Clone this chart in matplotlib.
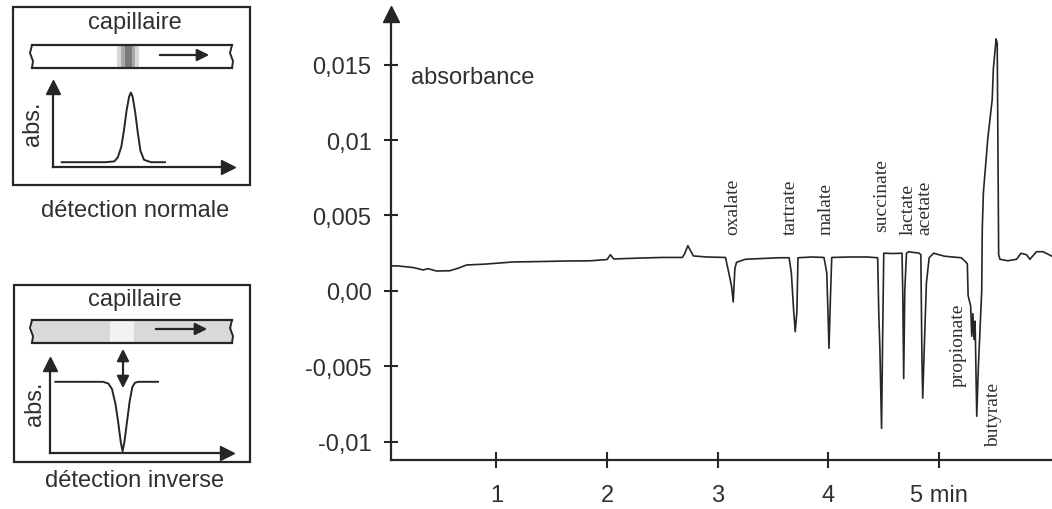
import matplotlib
matplotlib.use('Agg')
import matplotlib.pyplot as plt
from matplotlib.patches import Rectangle

# electropherogram trace (time in min, absorbance)
time_min = [0.05, 0.11, 0.25, 0.34, 0.38, 0.46, 0.58, 0.66, 0.73, 0.90,
            1.15, 1.40, 1.60, 1.85, 2.00, 2.03, 2.06, 2.30, 2.50, 2.68,
            2.70, 2.73, 2.78, 2.90, 3.07, 3.10, 3.125, 3.14, 3.155, 3.17,
            3.25, 3.40, 3.55, 3.645, 3.665, 3.685, 3.70, 3.715, 3.725, 3.85,
            3.96, 3.985, 3.995, 4.005, 4.018, 4.03, 4.20, 4.35, 4.445, 4.455,
            4.465, 4.48, 4.49, 4.50, 4.58, 4.665, 4.672, 4.68, 4.69, 4.705,
            4.725, 4.82, 4.835, 4.845, 4.852, 4.865, 4.885, 4.91, 4.95, 5.05,
            5.20, 5.23, 5.255, 5.262, 5.285, 5.295, 5.305, 5.315, 5.325, 5.33,
            5.34, 5.355, 5.385, 5.39, 5.40, 5.44, 5.48, 5.49, 5.515, 5.525,
            5.533, 5.538, 5.55, 5.62, 5.70, 5.74, 5.79, 5.82, 5.88, 5.94,
            6.02]
absorb = [0.00166, 0.00166, 0.00155, 0.00139, 0.00148, 0.00132, 0.00134, 0.00152, 0.00172, 0.00178,
          0.00192, 0.00195, 0.00198, 0.00200, 0.00208, 0.00240, 0.00212, 0.00218, 0.00222, 0.00222,
          0.00245, 0.00300, 0.00232, 0.00225, 0.00222, 0.00120, 0.00030, -0.00073, 0.00150, 0.00190,
          0.00210, 0.00215, 0.00220, 0.00220, 0.00120, -0.00120, -0.00270, -0.00140, 0.00220, 0.00225,
          0.00222, 0.00120, -0.00120, -0.00380, -0.00050, 0.00222, 0.00225, 0.00225, 0.00220, -0.00150,
          -0.00380, -0.00910, -0.00300, 0.00250, 0.00248, 0.00250, -0.00030, -0.00580, 0.00000, 0.00250,
          0.00260, 0.00250, 0.00240, -0.00450, -0.00710, -0.00400, 0.00050, 0.00220, 0.00250, 0.00230,
          0.00220, 0.00200, 0.00180, -0.00030, -0.00100, -0.00300, -0.00150, -0.00320, -0.00200, -0.00400,
          -0.00830, -0.00500, 0.00000, 0.00410, 0.00650, 0.01010, 0.01270, 0.01470, 0.01670, 0.01640,
          0.00800, 0.00240, 0.00210, 0.00200, 0.00210, 0.00250, 0.00240, 0.00210, 0.00260, 0.00260,
          0.00230]

peak_names = ['oxalate', 'tartrate', 'malate', 'succinate', 'lactate', 'acetate',
              'propionate', 'butyrate']
label_t = [3.14, 3.66, 3.98, 4.48, 4.72, 4.87, 5.17, 5.49]
label_v = [0.0038, 0.0038, 0.0038, 0.0040, 0.0038, 0.0038, -0.0063, -0.0103]

x_ticks = [1, 2, 3, 4, 5]
x_labels = ['1', '2', '3', '4', '5 min']
y_ticks = [0.015, 0.01, 0.005, 0.0, -0.005, -0.01]
y_labels = ['0,015', '0,01', '0,005', '0,00', '-0,005', '-0,01']

# schematic profiles (fractions of the little axes)
sketch_x_norm = [0.05, 0.30, 0.35, 0.37, 0.39, 0.405, 0.42, 0.435, 0.445, 0.455,
                 0.47, 0.485, 0.50, 0.52, 0.56, 0.64]
sketch_y_norm = [0.06, 0.06, 0.07, 0.12, 0.25, 0.45, 0.70, 0.88, 0.93, 0.88,
                 0.68, 0.42, 0.20, 0.09, 0.06, 0.06]
sketch_x_inv = [0.03, 0.30, 0.33, 0.35, 0.37, 0.385, 0.40, 0.41, 0.42, 0.435,
                0.45, 0.465, 0.48, 0.50, 0.61]
sketch_y_inv = [0.80, 0.80, 0.78, 0.72, 0.55, 0.35, 0.12, 0.02, 0.12, 0.35,
                0.58, 0.74, 0.79, 0.80, 0.80]

INK = '#262626'
TXT = '#303030'
W, H = 1052, 510
SANS = 'Liberation Sans'
SERIF = 'Liberation Serif'

fig = plt.figure(figsize=(W / 100, H / 100), dpi=100)


def px_axes(x0, y_top, x1, y_bot):
    # axes rectangle given in image pixels (y from top)
    return [x0 / W, (H - y_bot) / H, (x1 - x0) / W, (y_bot - y_top) / H]


# overlay in pixel coordinates for the left drawings and free text
ov = fig.add_axes([0, 0, 1, 1])
ov.set_xlim(0, W)
ov.set_ylim(H, 0)
ov.axis('off')
ov.patch.set_alpha(0)


def tube(y0, y1, fill=None, gap=None):
    x0, x1 = 32, 232
    if fill:
        ov.add_patch(Rectangle((x0, y0), x1 - x0, y1 - y0, facecolor=fill,
                               edgecolor='none', hatch='....', zorder=1))
        if gap:
            ov.add_patch(Rectangle((gap[0], y0), gap[1] - gap[0], y1 - y0,
                                   facecolor='#f2f2f2', edgecolor='none', zorder=1))
    ov.plot([x0, x1], [y0, y0], color=INK, lw=1.6, zorder=2)
    ov.plot([x0, x1], [y1, y1], color=INK, lw=1.6, zorder=2)
    h = y1 - y0
    for xe in (x0, x1):
        ov.plot([xe, xe - 2, xe + 1, xe],
                [y0, y0 + h * 0.35, y0 + h * 0.7, y1], color=INK, lw=1.4, zorder=2)


# --- normal detection panel
ov.add_patch(Rectangle((13, 8), 237, 178, fill=False, edgecolor=INK, lw=1.6))
ov.text(135, 23, 'capillaire', ha='center', va='center', fontsize=17,
        family=SANS, color=TXT)
tube(46, 69)
for wband, a in ((22, 0.18), (14, 0.25), (7, 0.35)):
    ov.add_patch(Rectangle((128 - wband / 2, 47), wband, 21, facecolor='#222222',
                           alpha=a, edgecolor='none', zorder=1))
ov.annotate('', xy=(212, 56), xytext=(157, 56),
            arrowprops=dict(arrowstyle='-|>', color=INK, lw=1.6, mutation_scale=18))
ov.text(135, 211, 'détection normale', ha='center', va='center', fontsize=17,
        family=SANS, color=TXT)
ov.text(33, 124, 'abs.', ha='center', va='center', rotation=90, fontsize=17,
        family=SANS, color=TXT)

# --- inverse detection panel
ov.add_patch(Rectangle((14, 286), 236, 177, fill=False, edgecolor=INK, lw=1.6))
ov.text(135, 300, 'capillaire', ha='center', va='center', fontsize=17,
        family=SANS, color=TXT)
tube(321, 344, fill='#d9d9d9', gap=(110, 134))
ov.annotate('', xy=(210, 330), xytext=(153, 330),
            arrowprops=dict(arrowstyle='-|>', color=INK, lw=1.6, mutation_scale=18))
ov.annotate('', xy=(123, 392), xytext=(123, 347),
            arrowprops=dict(arrowstyle='<|-|>', color=INK, lw=1.6, mutation_scale=18))
ov.text(135, 481, 'détection inverse', ha='center', va='center', fontsize=17,
        family=SANS, color=TXT)
ov.text(35, 404, 'abs.', ha='center', va='center', rotation=90, fontsize=17,
        family=SANS, color=TXT)

ov.text(411, 78, 'absorbance', ha='left', va='center', fontsize=17,
        family=SANS, color=TXT)


def mini_axes(rect, xs, ys):
    a = fig.add_axes(rect)
    a.set_xlim(0, 1)
    a.set_ylim(0, 1)
    a.patch.set_alpha(0)
    for s in ('top', 'right'):
        a.spines[s].set_visible(False)
    for s in ('left', 'bottom'):
        a.spines[s].set_color(INK)
        a.spines[s].set_linewidth(1.6)
    a.set_xticks([])
    a.set_yticks([])
    a.plot([1], [0], marker='>', ms=10, color=INK, transform=a.transAxes, clip_on=False)
    a.plot([0], [1], marker='^', ms=10, color=INK, transform=a.transAxes, clip_on=False)
    a.plot(xs, ys, color=INK, lw=1.4)
    return a


mini_axes(px_axes(53, 88, 228, 168), sketch_x_norm, sketch_y_norm)
mini_axes(px_axes(50, 365, 227, 454), sketch_x_inv, sketch_y_inv)

# --- main electropherogram
ax = fig.add_axes(px_axes(391, 15, 1052, 461))
ax.patch.set_alpha(0)
ax.set_xlim(0.048, 6.02)
ax.set_ylim(-0.0112, 0.01835)
ax.plot(time_min, absorb, color=INK, lw=1.2, clip_on=False)

for s in ('top', 'right'):
    ax.spines[s].set_visible(False)
for s in ('left', 'bottom'):
    ax.spines[s].set_color(INK)
    ax.spines[s].set_linewidth(1.6)
ax.plot([0], [1], marker='^', ms=11, color=INK, transform=ax.transAxes, clip_on=False)

ax.set_xticks(x_ticks)
ax.set_xticklabels(x_labels, fontsize=17, family=SANS, color=TXT)
ax.set_yticks(y_ticks)
ax.set_yticklabels(y_labels, fontsize=17, family=SANS, color=TXT)
ax.tick_params(axis='y', direction='inout', length=10, width=1.5, color=INK, pad=9)
ax.tick_params(axis='x', direction='inout', length=12, width=1.5, color=INK, pad=11)

for name, t, v in zip(peak_names, label_t, label_v):
    ax.text(t, v, name, rotation=90, ha='center', va='bottom', fontsize=14,
            family=SERIF, color=TXT)

fig.savefig('out.png', dpi=100)
